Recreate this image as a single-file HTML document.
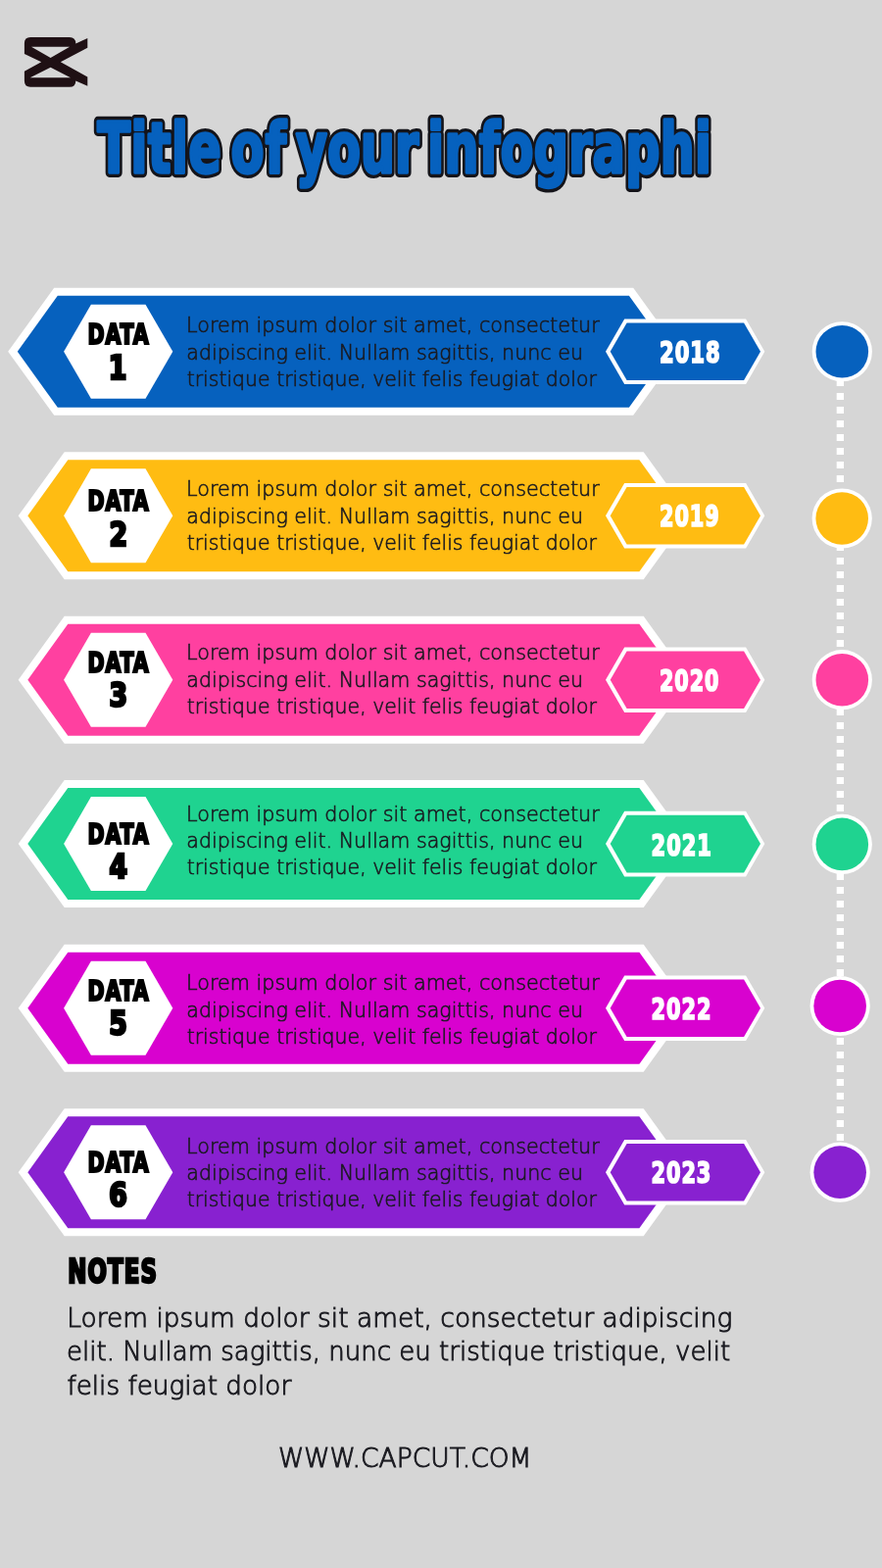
<!DOCTYPE html>
<html lang="en"><head><meta charset="utf-8"><title>Title of your infographi</title>
<style>
html,body{margin:0;padding:0;background:#d6d6d6}
body{width:900px;height:1600px;overflow:hidden;position:relative;font-family:"Liberation Sans",sans-serif}
svg{position:absolute;left:0;top:0;display:block}
text{white-space:pre}
.body{font-family:"DejaVu Sans","Liberation Sans",sans-serif;font-weight:200;font-size:20.9px;fill:#1a1a20;stroke:#1a1a20;stroke-width:0.62;}
.note{font-family:"DejaVu Sans","Liberation Sans",sans-serif;font-weight:200;font-size:26px;fill:#1a1a20;stroke:#1a1a20;stroke-width:0.95;}
.hd{font-family:"DejaVu Sans Condensed","DejaVu Sans","Liberation Sans",sans-serif;font-weight:bold;font-stretch:condensed;stroke-linejoin:miter;stroke-miterlimit:2}
.title{font-family:"DejaVu Sans Condensed","DejaVu Sans","Liberation Sans",sans-serif;font-weight:bold;font-stretch:condensed;stroke-linejoin:round}
</style></head><body>
<svg width="900" height="1600" viewBox="0 0 900 1600">
<rect width="900" height="1600" fill="#d6d6d6"/>
<g id="logo"><path fill="#1f1014" fill-rule="evenodd" d="M24.9 44Q24.9 38 31 38L71 38Q77.3 38 77.3 44.5L89.3 38.9L89.3 48.7L61.8 63.3L89.3 78.4L89.3 87.8L77.3 82.4Q77.3 88.7 71 88.7L31 88.7Q24.9 88.7 24.9 82.5L24.9 72.7L42.2 63.3L24.9 54.9ZM32 47.8L71.1 47.8L51.6 58.9ZM30.7 79.3L72 79.3L51.6 68.7Z"/></g>
<g id="title"><text class="title" font-size="70.6" fill="#14141a" stroke="#14141a" stroke-width="10.2" transform="translate(0 176.4) scale(0.77 1)" aria-hidden="true"><tspan x="129.2" letter-spacing="0.918">Title </tspan><tspan x="306.27" letter-spacing="1.817">of </tspan><tspan x="392.28" letter-spacing="0.307">your </tspan><tspan x="566.68" letter-spacing="0.635">infographi</tspan></text><text class="title" font-size="70.6" fill="#0661be" stroke="#0661be" stroke-width="3.4" transform="translate(0 176.4) scale(0.77 1)"><tspan x="129.2" letter-spacing="0.918">Title </tspan><tspan x="306.27" letter-spacing="1.817">of </tspan><tspan x="392.28" letter-spacing="0.307">your </tspan><tspan x="566.68" letter-spacing="0.635">infographi</tspan></text></g>
<line x1="857.35" y1="387" x2="857.35" y2="1164" stroke="#fff" stroke-width="7.3" stroke-dasharray="7 7"/>
<g id="row1">
<polygon fill="#fff" points="8.2,358.7 55.2,293.7 646.2,293.7 693.2,358.7 646.2,423.7 55.2,423.7"/>
<polygon fill="#0661be" points="17.8,358.7 58.8,301.7 641.9,301.7 682.9,358.7 641.9,415.7 58.8,415.7"/>
<polygon fill="#fff" points="65.1,358.7 92.9,310.7 148.5,310.7 176.3,358.7 148.5,406.7 92.9,406.7"/>
<text class="hd" font-size="28.3" fill="#000" stroke="#000" stroke-width="2.2" letter-spacing="1.2" transform="translate(89.46 350.6) scale(0.8059 1)">DATA</text>
<text class="hd" font-size="33" fill="#000" stroke="#000" stroke-width="2.6" transform="translate(110.8 386.7) scale(0.9 1)">1</text>
<text class="body" transform="translate(190.12 339.3) scale(0.9924 1)">Lorem ipsum dolor sit amet, consectetur</text>
<text class="body" transform="translate(190.26 366.7) scale(0.9875 1)">adipiscing elit. Nullam sagittis, nunc eu</text>
<text class="body" transform="translate(190.65 393.7) scale(0.9791 1)">tristique tristique, velit felis feugiat dolor</text>
<polygon fill="#fff" points="618,358.7 637.2,325.4 761.1,325.4 780.3,358.7 761.1,392 637.2,392"/>
<polygon fill="#0661be" points="622.7,358.7 639.6,329.4 759.1,329.4 776,358.7 759.1,388 639.6,388"/>
<text class="hd" font-size="29.6" fill="#fff" stroke="#fff" stroke-width="1.7" letter-spacing="1.2" transform="translate(673 369.76) scale(0.793 1)">2018</text>
<circle cx="859.3" cy="358.75" r="30.6" fill="#fff"/>
<circle cx="859.3" cy="358.75" r="26.8" fill="#0661be"/>
</g>
<g id="row2">
<polygon fill="#fff" points="18.7,526.3 65.7,461.3 656.7,461.3 703.7,526.3 656.7,591.3 65.7,591.3"/>
<polygon fill="#ffbc12" points="28.3,526.3 69.3,469.3 652.4,469.3 693.4,526.3 652.4,583.3 69.3,583.3"/>
<polygon fill="#fff" points="65.1,526.3 92.9,478.3 148.5,478.3 176.3,526.3 148.5,574.3 92.9,574.3"/>
<text class="hd" font-size="28.3" fill="#000" stroke="#000" stroke-width="2.2" letter-spacing="1.2" transform="translate(89.46 520.6) scale(0.8059 1)">DATA</text>
<text class="hd" font-size="33" fill="#000" stroke="#000" stroke-width="2.6" transform="translate(111.51 556.7) scale(0.9 1)">2</text>
<text class="body" transform="translate(190.12 506.4) scale(0.9924 1)">Lorem ipsum dolor sit amet, consectetur</text>
<text class="body" transform="translate(190.26 533.6) scale(0.9875 1)">adipiscing elit. Nullam sagittis, nunc eu</text>
<text class="body" transform="translate(190.65 561) scale(0.9791 1)">tristique tristique, velit felis feugiat dolor</text>
<polygon fill="#fff" points="618,526.3 637.2,493 761.1,493 780.3,526.3 761.1,559.6 637.2,559.6"/>
<polygon fill="#ffbc12" points="622.7,526.3 639.6,497 759.1,497 776,526.3 759.1,555.6 639.6,555.6"/>
<text class="hd" font-size="29.6" fill="#fff" stroke="#fff" stroke-width="1.7" letter-spacing="1.2" transform="translate(673.02 537.36) scale(0.7802 1)">2019</text>
<circle cx="859.2" cy="529" r="30.6" fill="#fff"/>
<circle cx="859.2" cy="529" r="26.8" fill="#ffbc12"/>
</g>
<g id="row3">
<polygon fill="#fff" points="18.7,693.8 65.7,628.8 656.7,628.8 703.7,693.8 656.7,758.8 65.7,758.8"/>
<polygon fill="#ff40a0" points="28.3,693.8 69.3,636.8 652.4,636.8 693.4,693.8 652.4,750.8 69.3,750.8"/>
<polygon fill="#fff" points="65.1,693.8 92.9,645.8 148.5,645.8 176.3,693.8 148.5,741.8 92.9,741.8"/>
<text class="hd" font-size="28.3" fill="#000" stroke="#000" stroke-width="2.2" letter-spacing="1.2" transform="translate(89.46 685.9) scale(0.8059 1)">DATA</text>
<text class="hd" font-size="33" fill="#000" stroke="#000" stroke-width="2.6" transform="translate(111.58 721.26) scale(0.9 1)">3</text>
<text class="body" transform="translate(190.12 673.3) scale(0.9924 1)">Lorem ipsum dolor sit amet, consectetur</text>
<text class="body" transform="translate(190.26 700.7) scale(0.9875 1)">adipiscing elit. Nullam sagittis, nunc eu</text>
<text class="body" transform="translate(190.65 728) scale(0.9791 1)">tristique tristique, velit felis feugiat dolor</text>
<polygon fill="#fff" points="618,693.8 637.2,660.5 761.1,660.5 780.3,693.8 761.1,727.1 637.2,727.1"/>
<polygon fill="#ff40a0" points="622.7,693.8 639.6,664.5 759.1,664.5 776,693.8 759.1,723.1 639.6,723.1"/>
<text class="hd" font-size="29.6" fill="#fff" stroke="#fff" stroke-width="1.7" letter-spacing="1.2" transform="translate(673.02 704.76) scale(0.7759 1)">2020</text>
<circle cx="859.3" cy="693.7" r="30.6" fill="#fff"/>
<circle cx="859.3" cy="693.7" r="26.8" fill="#ff40a0"/>
</g>
<g id="row4">
<polygon fill="#fff" points="18.7,861.1 65.7,796.1 656.7,796.1 703.7,861.1 656.7,926.1 65.7,926.1"/>
<polygon fill="#1fd390" points="28.3,861.1 69.3,804.1 652.4,804.1 693.4,861.1 652.4,918.1 69.3,918.1"/>
<polygon fill="#fff" points="65.1,861.1 92.9,813.1 148.5,813.1 176.3,861.1 148.5,909.1 92.9,909.1"/>
<text class="hd" font-size="28.3" fill="#000" stroke="#000" stroke-width="2.2" letter-spacing="1.2" transform="translate(89.46 860.6) scale(0.8059 1)">DATA</text>
<text class="hd" font-size="33" fill="#000" stroke="#000" stroke-width="2.6" transform="translate(111.39 896.4) scale(0.9 1)">4</text>
<text class="body" transform="translate(190.12 837.7) scale(0.9924 1)">Lorem ipsum dolor sit amet, consectetur</text>
<text class="body" transform="translate(190.26 865) scale(0.9875 1)">adipiscing elit. Nullam sagittis, nunc eu</text>
<text class="body" transform="translate(190.65 892) scale(0.9791 1)">tristique tristique, velit felis feugiat dolor</text>
<polygon fill="#fff" points="618,861.1 637.2,827.8 761.1,827.8 780.3,861.1 761.1,894.4 637.2,894.4"/>
<polygon fill="#1fd390" points="622.7,861.1 639.6,831.8 759.1,831.8 776,861.1 759.1,890.4 639.6,890.4"/>
<text class="hd" font-size="29.6" fill="#fff" stroke="#fff" stroke-width="1.7" letter-spacing="1.2" transform="translate(664.61 872.76) scale(0.7868 1)">2021</text>
<circle cx="859.3" cy="861.4" r="30.6" fill="#fff"/>
<circle cx="859.3" cy="861.4" r="26.8" fill="#1fd390"/>
</g>
<g id="row5">
<polygon fill="#fff" points="18.7,1028.7 65.7,963.7 656.7,963.7 703.7,1028.7 656.7,1093.7 65.7,1093.7"/>
<polygon fill="#d802cf" points="28.3,1028.7 69.3,971.7 652.4,971.7 693.4,1028.7 652.4,1085.7 69.3,1085.7"/>
<polygon fill="#fff" points="65.1,1028.7 92.9,980.7 148.5,980.7 176.3,1028.7 148.5,1076.7 92.9,1076.7"/>
<text class="hd" font-size="28.3" fill="#000" stroke="#000" stroke-width="2.2" letter-spacing="1.2" transform="translate(89.46 1020.9) scale(0.8059 1)">DATA</text>
<text class="hd" font-size="33" fill="#000" stroke="#000" stroke-width="2.6" transform="translate(111.35 1056.26) scale(0.9 1)">5</text>
<text class="body" transform="translate(190.12 1010.3) scale(0.9924 1)">Lorem ipsum dolor sit amet, consectetur</text>
<text class="body" transform="translate(190.26 1037.7) scale(0.9875 1)">adipiscing elit. Nullam sagittis, nunc eu</text>
<text class="body" transform="translate(190.65 1065) scale(0.9791 1)">tristique tristique, velit felis feugiat dolor</text>
<polygon fill="#fff" points="618,1028.7 637.2,995.4 761.1,995.4 780.3,1028.7 761.1,1062 637.2,1062"/>
<polygon fill="#d802cf" points="622.7,1028.7 639.6,999.4 759.1,999.4 776,1028.7 759.1,1058 639.6,1058"/>
<text class="hd" font-size="29.6" fill="#fff" stroke="#fff" stroke-width="1.7" letter-spacing="1.2" transform="translate(664.61 1039.76) scale(0.7838 1)">2022</text>
<circle cx="857.15" cy="1026.5" r="30.6" fill="#fff"/>
<circle cx="857.15" cy="1026.5" r="26.8" fill="#d802cf"/>
</g>
<g id="row6">
<polygon fill="#fff" points="18.7,1196.3 65.7,1131.3 656.7,1131.3 703.7,1196.3 656.7,1261.3 65.7,1261.3"/>
<polygon fill="#8821d0" points="28.3,1196.3 69.3,1139.3 652.4,1139.3 693.4,1196.3 652.4,1253.3 69.3,1253.3"/>
<polygon fill="#fff" points="65.1,1196.3 92.9,1148.3 148.5,1148.3 176.3,1196.3 148.5,1244.3 92.9,1244.3"/>
<text class="hd" font-size="28.3" fill="#000" stroke="#000" stroke-width="2.2" letter-spacing="1.2" transform="translate(89.46 1195.6) scale(0.8059 1)">DATA</text>
<text class="hd" font-size="33" fill="#000" stroke="#000" stroke-width="2.6" transform="translate(111.3 1231.26) scale(0.9 1)">6</text>
<text class="body" transform="translate(190.12 1177) scale(0.9924 1)">Lorem ipsum dolor sit amet, consectetur</text>
<text class="body" transform="translate(190.26 1204.3) scale(0.9875 1)">adipiscing elit. Nullam sagittis, nunc eu</text>
<text class="body" transform="translate(190.65 1231.3) scale(0.9791 1)">tristique tristique, velit felis feugiat dolor</text>
<polygon fill="#fff" points="618,1196.3 637.2,1163 761.1,1163 780.3,1196.3 761.1,1229.6 637.2,1229.6"/>
<polygon fill="#8821d0" points="622.7,1196.3 639.6,1167 759.1,1167 776,1196.3 759.1,1225.6 639.6,1225.6"/>
<text class="hd" font-size="29.6" fill="#fff" stroke="#fff" stroke-width="1.7" letter-spacing="1.2" transform="translate(664.62 1207.16) scale(0.7817 1)">2023</text>
<circle cx="857.15" cy="1196.15" r="30.6" fill="#fff"/>
<circle cx="857.15" cy="1196.15" r="26.8" fill="#8821d0"/>
</g>
<g id="notes">
<text class="hd" font-size="33" fill="#000" stroke="#000" stroke-width="2.6" letter-spacing="1.4" transform="translate(69.37 1308.66) scale(0.7704 1)">NOTES</text>
<text class="note" transform="translate(68.21 1354) scale(1.0177 1)">Lorem ipsum dolor sit amet, consectetur adipiscing</text>
<text class="note" transform="translate(68.12 1388.4) scale(1.0009 1)">elit. Nullam sagittis, nunc eu tristique tristique, velit</text>
<text class="note" transform="translate(68.39 1423.3) scale(1.0114 1)">felis feugiat dolor</text>
</g>
<g id="footer"><text class="note" transform="translate(283.9 1496.8) scale(1.0216 1)">WWW.CAPCUT.COM</text></g>
</svg>
</body></html>
